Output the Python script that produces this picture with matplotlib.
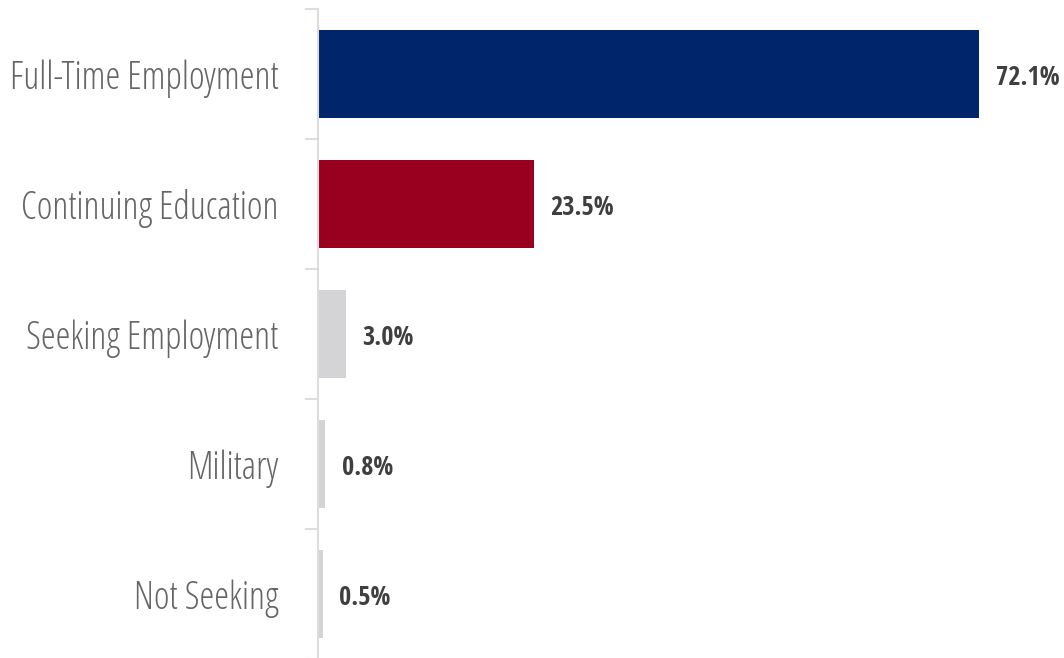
import matplotlib
matplotlib.use("Agg")
import matplotlib.pyplot as plt
from matplotlib import font_manager
from matplotlib.font_manager import FontProperties
from matplotlib.ticker import FixedLocator

categories = ["Full-Time Employment", "Continuing Education", "Seeking Employment", "Military", "Not Seeking"]
values = [72.1, 23.5, 3.0, 0.8, 0.5]
value_labels = ["72.1%", "23.5%", "3.0%", "0.8%", "0.5%"]
colors = ["#00256a", "#99001f", "#d4d3d5", "#d4d3d5", "#d4d3d5"]


def find_font(fname):
    for f in font_manager.fontManager.ttflist:
        if f.fname.endswith(fname):
            return f.fname
    return None


light_path = find_font("OpenSans-CondLight.ttf")
bold_path = find_font("OpenSans-CondBold.ttf")
label_font = FontProperties(fname=light_path, size=27) if light_path else FontProperties(family="Roboto Condensed", weight="light", size=27)
value_font = FontProperties(fname=bold_path, size=19) if bold_path else FontProperties(family="Roboto Condensed", weight="bold", size=19)

W, H = 1064, 658
fig = plt.figure(figsize=(W / 100, H / 100), dpi=100)
ax = fig.add_axes([318 / W, -1 / H, (W - 318) / W, 650 / H])

y = list(range(len(categories)))
ax.barh(y, values, height=0.67, color=colors)

# value labels just right of each bar
for yi, v, lab in zip(y, values, value_labels):
    ax.annotate(lab, (v, yi), xytext=(12, -2.5), textcoords="offset points",
                va="center", ha="left", color="#3f3f3f", fontproperties=value_font)

ax.set_ylim(len(categories) - 0.5, -0.5)
ax.set_xlim(0, 81.35)

ax.set_yticks(y)
ax.set_yticklabels(categories)
for t in ax.get_yticklabels():
    t.set_fontproperties(label_font)
    t.set_color("#666666")
ax.tick_params(axis="y", which="major", length=0, pad=28.5)
ax.yaxis.set_minor_locator(FixedLocator([i - 0.5 for i in range(len(categories) + 1)]))
ax.tick_params(axis="y", which="minor", length=9.5, width=1.5, color="#dddddd")

ax.set_xticks([])
for s in ["top", "right", "bottom"]:
    ax.spines[s].set_visible(False)
ax.spines["left"].set_color("#dddddd")
ax.spines["left"].set_linewidth(1.5)

fig.savefig("out.png", dpi=100)
